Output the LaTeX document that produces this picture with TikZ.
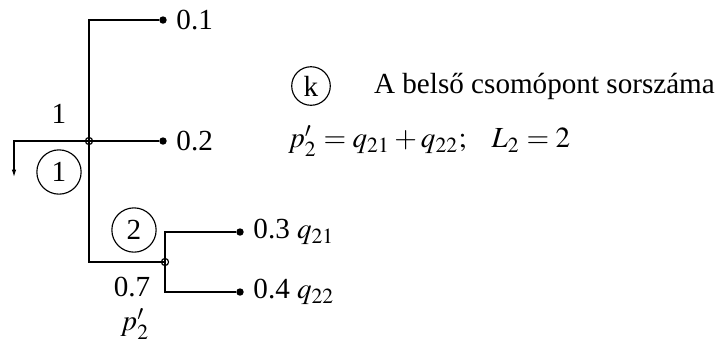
\documentclass[tikz,border=0pt]{standalone}
\usepackage{mathptmx}
\usepackage{fontspec}
\setmainfont{Liberation Serif}
\usepackage{tikz}
\usetikzlibrary{arrows.meta, positioning}

\begin{document}
\begin{tikzpicture}[x=0.35pt, y=-0.35pt, font=\fontsize{10.2}{12}\selectfont,
    leaf/.style={circle, fill=black, inner sep=0pt, minimum size=2.6pt},
    junc/.style={circle, draw, inner sep=0pt, minimum size=2.5pt},
    idx/.style={circle, draw, inner sep=0pt, minimum size=15.5pt},
    lbl/.style={inner sep=3pt},
    line width=0.4pt]
  \useasboundingbox (0,0) rectangle (715,341);

  % Leaves
  \node[leaf] (l1) at (163, 20) {};
  \node[leaf] (l2) at (163, 141) {};
  \node[leaf] (l3) at (240, 232) {};
  \node[leaf] (l4) at (240, 292) {};
  \node[lbl, right=0pt of l1] (t1) {0.1};
  \node[lbl, right=0pt of l2] (t2) {0.2};
  \node[lbl, right=0pt of l3] (t3) {0.3 $q_{21}$};
  \node[lbl, right=0pt of l4] (t4) {0.4 $q_{22}$};

  % Inner nodes
  \coordinate (j1) at (89, 141);
  \coordinate (j2) at (165, 262);
  \coordinate (out) at (14, 177);

  % Tree
  \draw (l1) -| (j1) |- (j2);
  \draw[-{Latex[length=2.6pt, width=1.6pt]}] (l2) -| (out);
  \draw (l3) -| (j2) |- (l4);
  \node[junc] (c1) at (j1) {};
  \node[junc] (c2) at (j2) {};

  % Numbering and weights
  \node[idx] (n1) at (59, 172) {1};
  \node[idx] (n2) at (134, 230) {2};
  \node (w1) at (59, 114) {1};
  \node[inner sep=0pt] (w2) at (132, 287) {0.7};
  \node[inner sep=0pt] (p2) at (135, 324) {$p'_2$};

  % Legend
  \node[idx, minimum size=13.5pt] (k) at (311, 86) {k};
  \node[anchor=west] (kt) at (364, 86) {A belső csomópont sorszáma};
  \node[anchor=west] (eq) at (278, 141) {$p'_2 = q_{21} + q_{22};\ \ \ L_2 = 2$};
\end{tikzpicture}
\end{document}
